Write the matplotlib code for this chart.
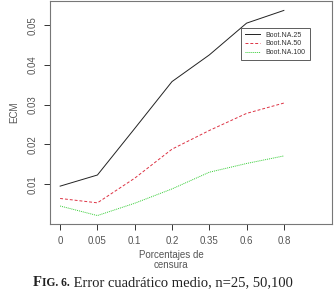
import numpy as np
import matplotlib.pyplot as plt

# datos
porcentajes = ['0', '0.05', '0.1', '0.2', '0.35', '0.6', '0.8']
boot25 = [0.0095, 0.0123, 0.0240, 0.0358, 0.0425, 0.0505, 0.0537]
boot50 = [0.0064, 0.0053, 0.0115, 0.0188, 0.0235, 0.0278, 0.0304]
boot100 = [0.0045, 0.0021, 0.0052, 0.0088, 0.0130, 0.0152, 0.0171]
yticks = [0.01, 0.02, 0.03, 0.04, 0.05]

plt.rcParams['font.family'] = ['Liberation Sans', 'DejaVu Sans']
gris = '#555555'

fig = plt.figure(figsize=(3.36, 2.95), dpi=100)
ax = fig.add_axes([0.149, 0.241, 0.839, 0.756])
x = np.arange(len(porcentajes))

ax.plot(x, boot25, color='#222222', lw=0.7, label='Boot.NA.25')
ax.plot(x, boot50, color='#dd3344', lw=0.7, ls=(0, (3, 2)), label='Boot.NA.50')
ax.plot(x, boot100, color='#33cc33', lw=0.7, ls=(0, (1, 1)), label='Boot.NA.100')

ax.set_xlim(-0.27, 7.29)
ax.set_ylim(0.0, 0.0561)
ax.set_xticks(x)
ax.set_xticklabels(porcentajes, fontsize=7, color=gris)
ax.set_yticks(yticks)
ax.set_yticklabels(['0.01', '0.02', '0.03', '0.04', '0.05'], fontsize=7,
                   color=gris, rotation=90, va='center')
ax.tick_params(length=4, width=0.7, color='#333333', pad=5)
for s in ax.spines.values():
    s.set_color('#777777')
    s.set_linewidth(0.8)

ax.set_ylabel('ECM', fontsize=7, color=gris, labelpad=6)
ax.set_xlabel('Porcentajes de\ncensura', fontsize=7, color=gris, labelpad=0,
              linespacing=1.0)
ax.xaxis.set_label_coords(0.43, -0.115)

leg = ax.legend(loc='upper right', bbox_to_anchor=(0.933, 0.895), fontsize=5,
                frameon=True, fancybox=False, borderpad=0.55, handlelength=2.1,
                labelspacing=0.25, handletextpad=0.9)
leg.get_frame().set_edgecolor('#333333')
leg.get_frame().set_linewidth(0.7)
for t in leg.get_texts():
    t.set_color('#333333')

# pie de figura
t1 = fig.text(0.098, 0.03, 'F', fontsize=10.5, fontweight='bold',
              family='Liberation Serif', color='#222222')
t2 = ax.annotate('IG. 6.', xy=(1, 0), xycoords=t1, fontsize=8.3,
                 fontweight='bold', family='Liberation Serif',
                 color='#222222', va='bottom')
ax.annotate(' Error cuadrático medio, n=25, 50,100', xy=(1, 0), xycoords=t2,
            fontsize=10.5, family='Liberation Serif', color='#222222',
            va='bottom', annotation_clip=False)

fig.savefig('out.png', dpi=100)
